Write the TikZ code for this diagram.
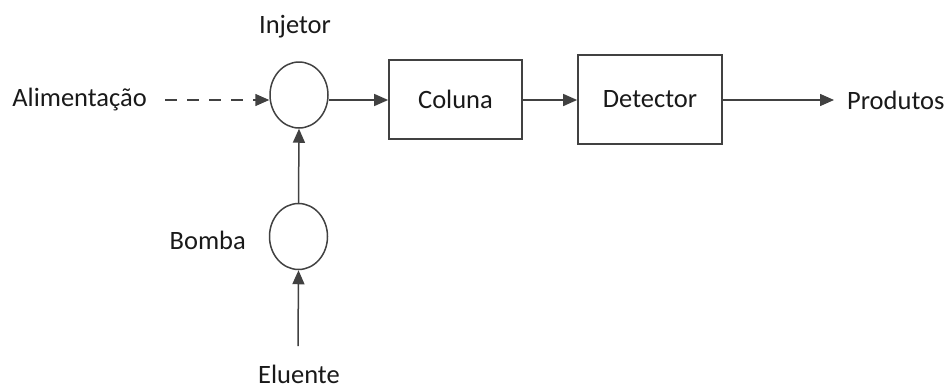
\documentclass[tikz,border=0pt]{standalone}
\usepackage{fontspec}
\setmainfont{Carlito}
\usetikzlibrary{arrows.meta,shapes.geometric}
\definecolor{linegray}{RGB}{65,65,65}
\definecolor{textgray}{RGB}{25,25,25}
\begin{document}
\begin{tikzpicture}[x=1pt,y=-1pt,
  every node/.style={font=\fontsize{26.5}{30}\selectfont, text=textgray},
  unit/.style={draw=linegray, line width=1.7pt, inner sep=0pt},
  ring/.style={draw=linegray, line width=1.5pt, ellipse, minimum width=58pt, minimum height=66pt, inner sep=0pt},
  label/.style={inner sep=0pt},
  flow/.style={draw=linegray, line width=1.5pt, -{Triangle[length=14pt,width=12pt]}},
  feed/.style={flow, dash pattern=on 12pt off 10pt}]
\useasboundingbox (0,0) rectangle (949,391);
% columns of the process
\node[unit, minimum width=133pt, minimum height=79pt] (col) at (455.5,99.5) {Coluna};
\node[unit, minimum width=144pt, minimum height=89pt] (det) at (650,99.5) {Detector};
% injector and pump
\node[ring] (inj) at (299,95) {};
\node[ring] (pump) at (298.5,236.5) {};
% labels
\node[label, anchor=east] (feedtxt) at (147,100) {Alimentação};
\node[label] (injtxt) at (295,27) {Injetor};
\node[label, anchor=west] (prod) at (847,100) {Produtos};
\node[label, anchor=east] (pumptxt) at (246,240) {Bomba};
\node[label] (elu) at (299,374) {Eluente};
\coordinate (eluin) at (298,346);
\coordinate (feedin) at (165,100);
\coordinate (prodin) at (834,100);
% flow lines
\draw[feed] (feedin) -- (inj.west |- feedin);
\draw[flow] (inj.east |- 0,100) -- (col.west |- 0,100);
\draw[flow] (col.east |- 0,100) -- (det.west |- 0,100);
\draw[flow] (det.east |- 0,100) -- (prodin);
\draw[flow] (pump.north) -- (inj.south);
\draw[flow] (eluin) -- (pump.south);
\end{tikzpicture}
\end{document}
